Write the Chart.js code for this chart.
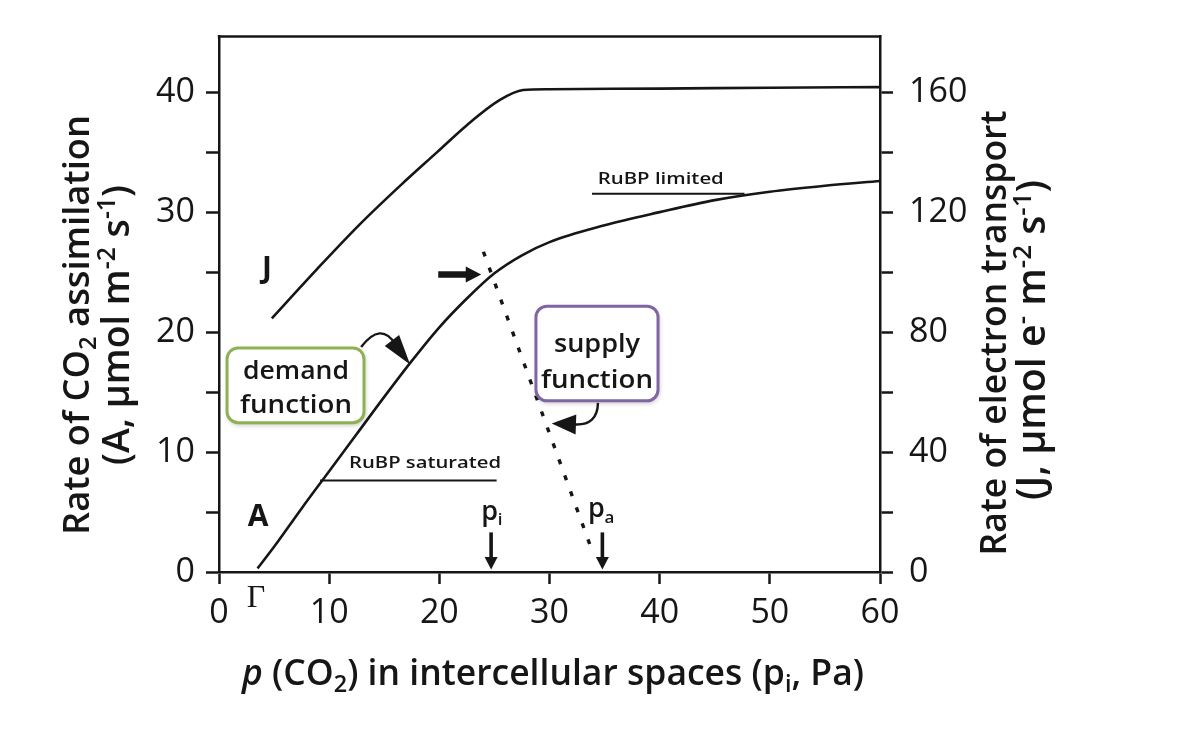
<!DOCTYPE html>
<html><head><meta charset="utf-8">
<script src="https://cdn.jsdelivr.net/npm/chart.js@4.4.0/dist/chart.umd.min.js"></script>
<style>html,body{margin:0;padding:0;background:#fff;}canvas{display:block;}</style>
</head><body>
<canvas id="c" width="1178" height="741"></canvas>
<script>
// ---- data ----
const demandX   = [3.5, 5, 7.5, 10, 12.5, 15, 17.5, 20, 22.5, 25, 27.5, 30, 35, 40, 45, 50, 55, 60];
const demandA   = [0.3, 2.1, 5.3, 8.4, 11.5, 14.6, 17.6, 20.4, 22.8, 24.9, 26.4, 27.5, 28.9, 30.0, 31.0, 31.7, 32.2, 32.6];
const electronX = [4.8, 8.9, 12.8, 16.5, 19.8, 22.5, 25.5, 27.6, 30, 40, 50, 60];
const electronJ = [84.6, 101, 116, 129, 140, 149, 157.4, 160.7, 161, 161.2, 161.5, 161.7];
const supplyX   = [24.0, 33.7];
const supplyA   = [26.7, 2.2];
const xTicks  = [0, 10, 20, 30, 40, 50, 60];
const yTicks  = [0, 5, 10, 15, 20, 25, 30, 35, 40];
const y1Ticks = [0, 20, 40, 60, 80, 100, 120, 140, 160];
const piValue = 24.7, paValue = 34.8;

const INK = '#161616';
const FAM = "'Open Sans', 'Noto Sans', sans-serif";

function toPts(xs, ys){ return xs.map((x,i)=>({x:x, y:ys[i]})); }

function drawRich(ctx, segs, cx, cy, size, weight, rot, targetLen){
  const fontFor = (m, s) => (m===3 ? 'italic ' : '') + weight + ' ' + ((m===1||m===2) ? s*0.66 : s) + 'px ' + FAM;
  const measure = s => { let w=0; for (const [t,m] of segs){ ctx.font=fontFor(m,s); w+=ctx.measureText(t).width; } return w; };
  let s = size;
  if (targetLen) s = size * targetLen / measure(size);
  const total = measure(s);
  ctx.save();
  ctx.translate(cx, cy); ctx.rotate(rot);
  ctx.fillStyle = INK; ctx.textAlign='left'; ctx.textBaseline='alphabetic';
  let x = -total/2;
  for (const [t,m] of segs){
    ctx.font = fontFor(m,s);
    const dy = m===1 ? s*0.2 : (m===2 ? -s*0.36 : 0);
    ctx.fillText(t, x, s*0.36 + dy);
    x += ctx.measureText(t).width;
  }
  ctx.restore();
}

function fitText(ctx, text, cx, by, width, font){
  ctx.save();
  ctx.font = font;
  const w = ctx.measureText(text).width;
  ctx.translate(cx, by);
  ctx.scale(width / w, 1);
  ctx.textAlign='center'; ctx.textBaseline='alphabetic'; ctx.fillStyle=INK;
  ctx.fillText(text, 0, 0);
  ctx.restore();
}

function head(ctx, bx, by, tx, ty, hw){
  const ang = Math.atan2(ty-by, tx-bx);
  const nx = -Math.sin(ang)*hw, ny = Math.cos(ang)*hw;
  ctx.beginPath();
  ctx.moveTo(tx, ty);
  ctx.lineTo(bx+nx, by+ny);
  ctx.lineTo(bx-nx, by-ny);
  ctx.closePath(); ctx.fill();
}

function roundBox(ctx, x0, y0, x1, y1, r, color){
  ctx.save();
  ctx.shadowColor='rgba(0,0,0,0.28)'; ctx.shadowBlur=5; ctx.shadowOffsetX=1; ctx.shadowOffsetY=2;
  ctx.beginPath();
  ctx.roundRect(x0, y0, x1-x0, y1-y0, r);
  ctx.fillStyle='#ffffff'; ctx.fill();
  ctx.shadowColor='transparent';
  ctx.lineWidth=3; ctx.strokeStyle=color; ctx.stroke();
  ctx.restore();
}

const annot = {
  id:'annot',
  afterDraw(chart){
    const ctx = chart.ctx, X = chart.scales.x, Y = chart.scales.y, a = chart.chartArea;
    const px = v => X.getPixelForValue(v), py = v => Y.getPixelForValue(v);
    ctx.save();
    ctx.strokeStyle = INK; ctx.fillStyle = INK; ctx.lineCap='butt';
    // top frame line
    ctx.lineWidth = 2.5;
    ctx.beginPath(); ctx.moveTo(a.left-1.2, a.top); ctx.lineTo(a.right+1.2, a.top); ctx.stroke();

    // RuBP labels with their leader lines
    ctx.lineWidth = 2;
    ctx.beginPath(); ctx.moveTo(px(9.17), py(7.63)); ctx.lineTo(px(25.2), py(7.63)); ctx.stroke();
    ctx.beginPath(); ctx.moveTo(px(33.86), py(31.54)); ctx.lineTo(px(47.7), py(31.54)); ctx.stroke();
    fitText(ctx, 'RuBP saturated', px(18.7), py(8.63), 152, "600 16px " + FAM);
    fitText(ctx, 'RuBP limited', px(40.1), py(32.37), 126, "600 16px " + FAM);

    // curve labels
    ctx.textAlign='center'; ctx.textBaseline='middle';
    ctx.font = "700 30px " + FAM;
    ctx.fillText('J', px(4.36), py(25.2));
    ctx.fillText('A', px(3.54), py(4.56));
    ctx.font = "400 32px 'Liberation Serif', 'DejaVu Serif', serif";
    ctx.fillText('Γ', px(3.36), py(-2.2));

    // p_i and p_a
    ctx.textAlign='left'; ctx.textBaseline='alphabetic';
    ctx.font = "600 27px " + FAM;
    ctx.fillText('p', px(23.8), py(4.3));
    ctx.fillText('p', px(33.5), py(4.6));
    ctx.font = "600 17px " + FAM;
    ctx.fillText('i', px(25.3), py(3.95));
    ctx.fillText('a', px(35.0), py(4.1));

    // down arrows at p_i and p_a
    for (const v of [piValue, paValue]){
      ctx.lineWidth = 3.6;
      ctx.beginPath(); ctx.moveTo(px(v), py(3.3)); ctx.lineTo(px(v), py(1.0)); ctx.stroke();
      head(ctx, px(v), py(1.25), px(v), py(0.2), 6.5);
    }
    // arrow pointing at the operating point
    ctx.lineWidth = 6.5;
    ctx.beginPath(); ctx.moveTo(px(19.9), py(24.8)); ctx.lineTo(px(22.7), py(24.8)); ctx.stroke();
    head(ctx, px(22.4), py(24.8), px(23.8), py(24.8), 8);

    // demand box
    roundBox(ctx, px(0.73), py(18.67), px(13.16), py(12.45), 11, '#8db153');
    fitText(ctx, 'demand', px(6.99), py(16.07), 106, "600 25px " + FAM);
    fitText(ctx, 'function', px(6.99), py(13.25), 112, "600 25px " + FAM);
    // demand curved arrow
    ctx.lineWidth = 2.4;
    ctx.beginPath(); ctx.moveTo(px(12.9), py(18.76));
    ctx.quadraticCurveTo(px(14.7), py(20.9), px(16.0), py(19.0)); ctx.stroke();
    head(ctx, px(15.7), py(19.3), px(17.35), py(17.3), 9);

    // supply box
    roundBox(ctx, px(28.77), py(22.16), px(39.85), py(14.27), 11, '#8065a3');
    fitText(ctx, 'supply', px(34.31), py(18.3), 86, "600 25px " + FAM);
    fitText(ctx, 'function', px(34.31), py(15.35), 112, "600 25px " + FAM);
    // supply curved arrow
    ctx.lineWidth = 2.4;
    ctx.beginPath(); ctx.moveTo(px(34.4), py(14.1));
    ctx.quadraticCurveTo(px(34.35), py(12.2), px(32.3), py(12.3)); ctx.stroke();
    head(ctx, px(32.4), py(12.3), px(30.2), py(12.37), 10);

    // axis titles
    drawRich(ctx, [['Rate of CO',0],['2',1],[' assimilation',0]], 76, 325, 28, 600, -Math.PI/2, 420);
    drawRich(ctx, [['(A, μmol m',0],['-2',2],[' s',0],['-1',2],[')',0]], 115, 325, 28, 600, -Math.PI/2, 280);
    drawRich(ctx, [['Rate of electron transport',0]], 993, 333, 28, 600, -Math.PI/2, 445);
    drawRich(ctx, [['(J, μmol e',0],['-',2],[' m',0],['-2',2],[' s',0],['-1',2],[')',0]], 1031, 340, 28, 600, -Math.PI/2, 320);
    drawRich(ctx, [['p',3],[' (CO',0],['2',1],[') in intercellular spaces (p',0],['i',1],[', Pa)',0]], 553, 672, 28, 600, 0, 622);
    ctx.restore();
  }
};

const tickFont = {family: FAM, size: 34, weight: '400'};
const gridOpts = {drawOnChartArea:false, drawTicks:true, tickLength:13, tickWidth:2.5, tickColor:INK, color:INK};
const borderOpts = {display:true, color:INK, width:2.5};

new Chart(document.getElementById('c'), {
  type:'scatter',
  data:{ datasets:[
    { label:'A', data: toPts(demandX, demandA), yAxisID:'y', showLine:true, pointRadius:0,
      borderColor:INK, borderWidth:2.6, cubicInterpolationMode:'monotone', fill:false },
    { label:'J', data: toPts(electronX, electronJ), yAxisID:'y1', showLine:true, pointRadius:0,
      borderColor:INK, borderWidth:2.6, cubicInterpolationMode:'monotone', fill:false },
    { label:'supply', data: toPts(supplyX, supplyA), yAxisID:'y', showLine:true, pointRadius:0,
      borderColor:INK, borderWidth:3.4, borderDash:[5,12], fill:false }
  ]},
  options:{
    responsive:false, animation:false, devicePixelRatio:1,
    layout:{ padding:{ top:34, left:0, right:0, bottom:0 } },
    plugins:{ legend:{display:false}, tooltip:{enabled:false}, title:{display:false} },
    scales:{
      x:{ type:'linear', position:'bottom', min:0, max:60,
        afterBuildTicks: s => { s.ticks = xTicks.map(v => ({value:v})); },
        afterFit: s => { s.height = 741 - 572; },
        ticks:{ autoSkip:false, maxRotation:0, color:INK, font:tickFont, padding:9 },
        grid: Object.assign({}, gridOpts, {tickLength:12}), border: borderOpts },
      y:{ type:'linear', position:'left', min:0, max:44.65,
        afterBuildTicks: s => { s.ticks = yTicks.map(v => ({value:v})); },
        afterFit: s => { s.width = 219; },
        ticks:{ autoSkip:false, color:INK, font:tickFont, padding:11,
          callback: v => (v % 10 === 0 ? String(v) : '') },
        grid: gridOpts, border: borderOpts },
      y1:{ type:'linear', position:'right', min:0, max:178.6,
        afterBuildTicks: s => { s.ticks = y1Ticks.map(v => ({value:v})); },
        afterFit: s => { s.width = 1178 - 880; },
        ticks:{ autoSkip:false, color:INK, font:tickFont, padding:16,
          callback: v => (v % 40 === 0 ? String(v) : '') },
        grid: gridOpts, border: borderOpts }
    }
  },
  plugins:[annot]
});
</script>
</body></html>
